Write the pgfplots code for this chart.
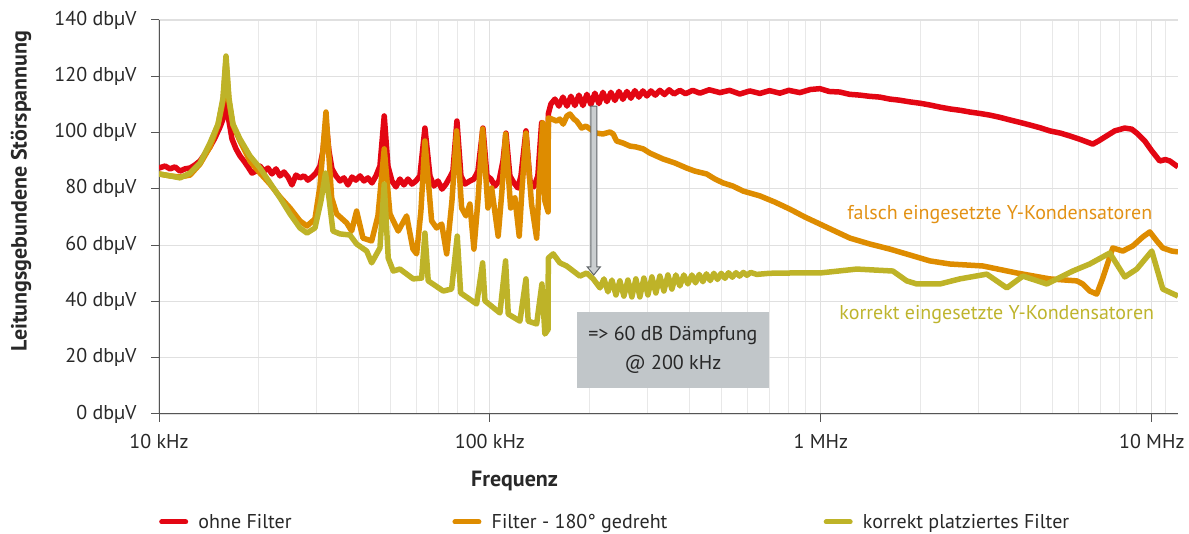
\documentclass[border=0pt]{standalone}
\usepackage{fontspec}
\setmainfont{PT Sans}
\usepackage{pgfplots}
\pgfplotsset{compat=1.18}
\definecolor{cred}{RGB}{227,6,19}
\definecolor{corange}{RGB}{222,140,0}
\definecolor{colive}{RGB}{190,179,40}
\definecolor{gridc}{RGB}{224,224,224}
\definecolor{axc}{RGB}{85,85,85}
\definecolor{txt}{RGB}{40,40,40}
\definecolor{boxc}{RGB}{193,198,201}
\definecolor{arrfill}{RGB}{202,206,208}
\definecolor{arrdraw}{RGB}{95,100,104}
\definecolor{otext}{RGB}{226,145,20}
\definecolor{ltext}{RGB}{190,180,45}
\begin{document}
\begin{tikzpicture}
\begin{axis}[
  width=1019pt, height=394pt, scale only axis,
  xmode=log, xmin=10, xmax=12000, ymin=0, ymax=140,
  axis x line*=bottom, axis y line*=left,
  axis line style={axc, line width=1pt},
  xtick={10,100,1000,10000},
  xticklabels={10 kHz,100 kHz,1 MHz,10 MHz},
  minor xtick={20,30,40,50,60,70,80,90,200,300,400,500,600,700,800,900,2000,3000,4000,5000,6000,7000,8000,9000,11000},
  ytick={0,20,40,60,80,100,120,140},
  yticklabels={0 dbµV,20 dbµV,40 dbµV,60 dbµV,80 dbµV,100 dbµV,120 dbµV,140 dbµV},
  grid=both,
  major grid style={gridc, line width=1.1pt},
  minor grid style={gridc!75, line width=1pt},
  tick align=outside, major tick length=8pt, minor tick length=0pt,
  tick style={axc, line width=1pt},
  tick label style={font=\fontsize{20}{23}\selectfont, text=txt},
  yticklabel style={xshift=-11pt},
  xticklabel style={yshift=-9pt},
  xlabel={Frequenz},
  xlabel style={at={(axis description cs:0.349,-0.170)}, anchor=center, font=\bfseries\fontsize{22}{26}\selectfont, text=txt},
  ylabel={Leitungsgebundene Störspannung},
  ylabel style={at={(axis description cs:-0.1355,0.566)}, anchor=center, font=\bfseries\fontsize{22}{26}\selectfont, text=txt},
  legend style={at={(axis description cs:0,0)}, anchor=west, yshift=-108pt, draw=none, fill=none,
    inner sep=0pt, font=\fontsize{20}{23}\selectfont, text=txt, legend cell align=left},
  legend columns=3,
  legend image code/.code={\draw[#1, line width=5pt, line cap=round] (0pt,0pt) -- (24pt,0pt); \path (32pt,0pt);},
  every axis plot/.append style={line join=round},
]
\coordinate (LL) at (rel axis cs:0,0);
\coordinate (UL) at (rel axis cs:0,1);

\addplot[cred, line width=5.5pt] coordinates {
(10,87.4)(10.43,88.1)(10.8,87.1)(11.18,87.8)(11.57,86.3)(11.98,87.1)(12.41,87.4)(12.85,88.5)(13.3,89.9)(13.77,92.4)(14.26,94.9)(14.76,98.1)(15.29,102)(15.61,104.8)(15.94,112.3)(16.27,104.1)(16.62,97.7)(17.09,94.2)(17.57,91.7)(18.06,89.9)(18.58,87.8)(19.1,85.6)(19.64,86.3)(20.19,88.1)(20.76,86.3)(21.35,87.4)(21.95,85.3)(22.57,87.1)(23.21,84.6)(23.86,86)(24.54,84.2)(25.22,81.4)(25.94,84.9)(26.67,83.9)(27.42,84.6)(28.19,83.1)(28.99,84.2)(29.81,85.6)(30.65,88.1)(31.3,93.5)(31.96,104.1)(32.63,93.5)(33.32,87.1)(34.26,84.6)(35.23,82.8)(36.22,83.9)(37.24,81.4)(38.29,84.2)(39.37,83.1)(40.49,84.6)(41.63,82.8)(42.8,83.9)(44.01,82.1)(45.25,84.6)(46.52,88.1)(47.93,105.9)(49.18,88.1)(50.57,82.8)(51.99,80.7)(53.46,83.5)(54.97,81.4)(56.52,83.5)(58.12,81.7)(59.76,82.8)(61.44,84.6)(63.62,101.6)(65.88,84.6)(67.74,81)(69.65,82.8)(71.64,79.9)(73.66,81.7)(75.72,84.2)(77.31,86.3)(79.49,104.1)(81.73,84.6)(84.04,81.7)(87,82.8)(89.46,83.5)(91.99,86.3)(95.25,101.6)(97.94,84.6)(100.7,83.5)(103.5,81)(106.5,82.8)(109.5,89.9)(111.8,99.8)(114.9,84.6)(118.2,82.1)(121.5,80.3)(124.1,84.6)(128.5,100.6)(132.1,82.8)(135.8,80.7)(139.6,84.6)(143.3,103.5)(145.6,84.6)(147.6,86.3)(149.9,86.3)(150.1,106.6)(152.9,110.2)(157.2,111.9)(161.6,109.4)(166.2,112.6)(170.9,109.4)(175.7,112.9)(180.6,109.6)(185.8,113.3)(191,109.6)(196.4,113.6)(201.9,110)(207.6,114)(213.5,110.3)(219.5,114.3)(225.7,111)(232.1,114.3)(238.6,111.4)(245.4,114.6)(252.2,111.8)(259.4,114.6)(266.7,112.2)(274.2,114.9)(281.9,112.6)(289.9,114.8)(298.1,113)(306.5,114.8)(316,113.3)(326.3,115)(337,113.5)(348,115.2)(360,113.7)(375,115)(390,113.8)(410,115)(431,114)(460,115.2)(495.3,114.2)(530,115)(569.2,113.7)(610,114.8)(654.2,113.9)(700,114.9)(751.7,114)(800,115)(864.1,114.2)(930,115.3)(993.1,115.6)(1060,114.6)(1141,114.4)(1220,113.6)(1312,113.3)(1400,112.9)(1508,112.6)(1616,111.9)(1730,111.5)(1858,110.9)(2000,110.4)(2135,109.8)(2300,109)(2453,108.4)(2640,107.9)(2819,107.3)(3020,106.8)(3240,106.2)(3480,105.4)(3724,104.5)(4000,103.6)(4280,102.7)(4600,101.7)(4918,100.6)(5300,99.8)(5653,98.8)(6100,97.5)(6631,95.9)(6900,97)(7210,98.4)(7730,100.6)(8287,101.6)(8700,101.2)(9009,99.8)(9524,97)(10000,93.5)(10572,89.9)(11000,90.4)(11334,89.9)(12000,87.8)
};
\addlegendentry{\makebox[252pt][l]{ohne Filter}}

\addplot[corange, line width=5.5pt] coordinates {
(10,85.3)(10.8,84.6)(11.57,84.2)(12.41,84.9)(13.3,88.8)(14.26,94.9)(15.08,102.7)(15.61,111.2)(15.94,125.4)(16.27,111.2)(16.73,102.7)(17.57,97)(18.83,89.9)(20.19,85.6)(21.65,81.7)(23.21,77.1)(24.88,73.2)(26.67,68.6)(28,66.8)(29.6,69.3)(30.65,81)(31.96,107.3)(33.25,76.8)(34.42,71.1)(36.91,67.9)(38.21,65)(39.56,72.1)(41.34,62.5)(43.92,61.5)(45.88,70.4)(47.93,94.2)(49.87,71.1)(52.83,65)(56.01,70.4)(58.53,58.6)(60.05,56.9)(61.87,72.1)(63.62,97)(66.66,68.6)(69.02,66.1)(71.49,67.5)(74.02,56.9)(76.78,75.7)(79.33,100.6)(82.13,73.2)(84.63,70.4)(87,74.6)(89.46,58.6)(91.99,75.7)(95.05,101.3)(98.62,73.2)(101.2,80.3)(105.9,63.2)(108.7,79.2)(111.5,99.5)(115.5,73.2)(119,76.8)(122.6,63.2)(124.9,79.2)(128.5,99.8)(133.6,74.6)(138.4,62.5)(140.6,79.2)(144.3,103.5)(146.6,75.7)(149.9,71.8)(150.1,105.2)(153.9,104.8)(159,104.1)(162.7,104.8)(166.5,103)(170.9,105.9)(174.5,106.6)(179.4,104.8)(182.8,104.1)(189.3,101.6)(195,102.3)(200.5,101.3)(210.1,99.8)(219.5,99.5)(230.5,100.2)(235.8,99.5)(241.4,97)(252.2,96.3)(264.9,95.2)(276.1,94.9)(290.5,94.2)(304.4,92.7)(333.8,90.6)(362.2,89.2)(392.8,87.4)(416.3,86.3)(451.6,85.3)(478.5,83.5)(506.8,82.1)(542.2,81)(582.4,79.2)(654.2,77.5)(726.1,75.3)(805.9,72.8)(894.7,70)(993.1,67.5)(1102,65)(1224,62.5)(1406,60.4)(1616,58.6)(1858,56.5)(2135,54.4)(2453,53.3)(3086,52.6)(3910,50.1)(4918,48)(5935,47.3)(6185,46.2)(6494,43.7)(6819,42.6)(7110,48.3)(7623,59)(8173,57.9)(8762,59.7)(9392,62.9)(9862,64.7)(10354,61.5)(10795,59)(11493,57.9)(12000,57.6)
};
\addlegendentry{\makebox[330pt][l]{Filter - 180° gedreht}}

\addplot[colive, line width=5.5pt] coordinates {
(10,85.3)(10.8,84.6)(11.57,83.9)(12.41,85.6)(13.3,89.2)(14.26,96.3)(15.08,103)(15.61,112.3)(15.94,127.2)(16.27,112.3)(16.73,103)(17.57,97.7)(18.83,91.7)(20.19,87.4)(21.65,82.1)(23.21,76.8)(24.88,71.1)(26.67,66.1)(28,64.3)(29.6,66.1)(30.86,75.7)(31.85,85.6)(32.63,76.8)(33.55,65)(35.23,64)(37.76,63.6)(39.56,60.4)(42.42,57.9)(43.92,53.7)(46.52,59)(47.93,81.7)(49.28,55.4)(51.03,50.8)(53.46,51.5)(58.65,48)(62.17,48.3)(63.62,64.3)(65.1,47.3)(72.29,43.7)(76.62,44.4)(79.66,63.2)(81.56,43)(91.16,39.1)(95.05,53.7)(96.58,40.2)(107.2,35.9)(111.5,54.4)(113.6,35.5)(123.2,33)(128.5,48)(130.5,33)(138.4,32)(143.6,46.2)(146.6,28.4)(149.9,30)(150.1,55.4)(155.3,56.9)(162.7,53.7)(170.5,52.6)(178.6,50.8)(187,49)(196,50.1)(205.2,48)(215,44.8)(221.1,48)(227.3,43.4)(233.7,47.6)(240.3,42.3)(247,47.3)(254,41.9)(261.2,47.6)(268.5,41.6)(276.1,48)(283.9,41.6)(291.9,48.3)(300.2,42.3)(308.6,48.7)(317.3,43)(326.3,49)(335.5,43.7)(345,49.4)(354.7,44.4)(364.7,49.4)(375,45.5)(385.5,49.4)(396.4,46.2)(407.6,49.4)(418,46.6)(429,49.6)(440,47)(451,49.8)(463,47.4)(475,50)(487,47.8)(500,50)(513,48.2)(526,50.2)(540,48.6)(554,50.2)(568,49)(583,50.3)(598,49.3)(614,50.3)(640,49.6)(700,50)(805.9,50.1)(993.1,50.1)(1285,51.5)(1650,50.8)(1818,47.3)(1950,46.2)(2288,46.2)(2630,48)(3173,49.7)(3647,44.8)(4077,49)(4817,46.2)(5772,50.8)(6494,53.3)(7466,57.2)(8287,48.7)(9009,51.5)(10000,57.9)(10795,44.4)(12000,41.9)
};
\addlegendentry{korrekt platziertes Filter}

\node[text=otext, font=\fontsize{20}{23}\selectfont] at (axis cs:3474,70.7) {falsch eingesetzte Y-Kondensatoren};
\node[text=ltext, font=\fontsize{20}{23}\selectfont] at (axis cs:3401,35.2) {korrekt eingesetzte Y-Kondensatoren};

\node[fill=boxc, minimum width=192pt, minimum height=76pt, inner sep=0pt, align=center,
      text=txt, font=\fontsize{20}{29}\selectfont] at (axis cs:357.2,22.7)
      {=> 60 dB Dämpfung\\@ 200 kHz};

\coordinate (AT) at (axis cs:206,109.4);
\coordinate (AB) at (axis cs:206,49.4);
\draw[arrdraw, fill=arrfill, line width=1pt, line join=miter]
  ([xshift=-3pt]AT) -- ([xshift=3pt]AT) -- ([xshift=3pt,yshift=8pt]AB) -- ([xshift=6.5pt,yshift=8pt]AB)
  -- (AB) -- ([xshift=-6.5pt,yshift=8pt]AB) -- ([xshift=-3pt,yshift=8pt]AB) -- cycle;
\end{axis}
\pgfresetboundingbox
\useasboundingbox ([shift={(-159pt,-120pt)}]LL) rectangle ([shift={(1030pt,20pt)}]UL);
\end{tikzpicture}
\end{document}
